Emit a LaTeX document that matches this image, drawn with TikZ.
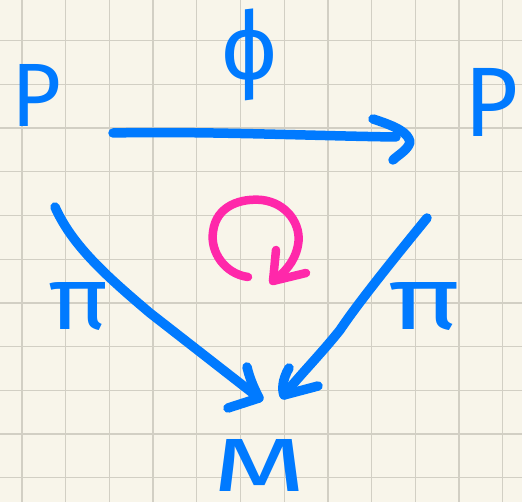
\documentclass[tikz,border=0pt]{standalone}
\usepackage{fontspec}
\setmainfont{Fira Sans}
\usepackage{graphicx}
\definecolor{paper}{RGB}{248,245,234}
\definecolor{gridc}{RGB}{210,207,196}
\definecolor{ink}{RGB}{0,122,255}
\definecolor{pinkink}{RGB}{255,40,170}
\tikzset{
  gridline/.style={draw=gridc, line width=1.3pt},
  letter/.style={text=ink, inner sep=0pt, font=\mdseries},
  conn/.style={draw=ink, line width=9.5pt, line cap=round, line join=round},
  rot/.style={draw=pinkink, line width=8.5pt, line cap=round, line join=round}
}
\begin{document}
\begin{tikzpicture}[x=1pt,y=-1pt]
\fill[paper] (0,0) rectangle (522,502);
\useasboundingbox (0,0) rectangle (522,502);
\foreach \i in {0,...,11} \draw[gridline] ({22+43.7*\i},0) -- ({22+43.7*\i},502);
\foreach \j in {0,...,10} \draw[gridline] (0,{40.7+43.7*\j}) -- (522,{40.7+43.7*\j});

% letters
\node[letter] (P1) at (37,95) {\resizebox{50pt}{62pt}{P}};
\node[letter] (P2) at (492,102) {\resizebox{54pt}{68pt}{P}};
\node[letter] (phi) at (250,55) {\resizebox*{56pt}{92pt}{ϕ}};
\node[letter] (pi1) at (79,307) {\resizebox{60pt}{47pt}{π}};
\node[letter] (pi2) at (425,307) {\resizebox{72pt}{47pt}{π}};
\node[letter] (M) at (260,465) {\resizebox{94pt}{52pt}{M}};

% top arrow phi
\coordinate (a1s) at (113,133);
\coordinate (a1t) at (410,142);
\draw[conn] (a1s) .. controls (200,131) and (320,136) .. (396,137);
\draw[conn] (373,119) .. controls (398,127) and (408,133) .. (a1t) .. controls (408,150) and (398,155) .. (393,160);

% left pi arrow
\coordinate (a2s) at (55,207);
\coordinate (a2t) at (259,398);
\draw[conn] (a2s) .. controls (72,245) and (105,275) .. (150,313) -- (a2t);
\draw[conn] (247,367) .. controls (250,380) and (255,390) .. (a2t) -- (228,408);

% right pi arrow
\coordinate (a3s) at (427,218);
\coordinate (a3t) at (284,395);
\draw[conn] (a3s) .. controls (405,245) and (360,300) .. (340,330) .. controls (320,355) and (300,375) .. (a3t);
\draw[conn] (289,368) .. controls (282,380) and (282,390) .. (a3t) -- (318,386);

% pink rotation arrow
\coordinate (r1s) at (248,277);
\coordinate (r1t) at (273,281);
\draw[rot] (r1s) .. controls (225,274) and (210,252) .. (213,232) .. controls (216,205) and (242,198) .. (262,200) .. controls (287,203) and (302,225) .. (298,245) .. controls (295,262) and (284,273) .. (r1t);
\draw[rot] (276,250) -- (r1t) -- (306,273);
\end{tikzpicture}
\end{document}
